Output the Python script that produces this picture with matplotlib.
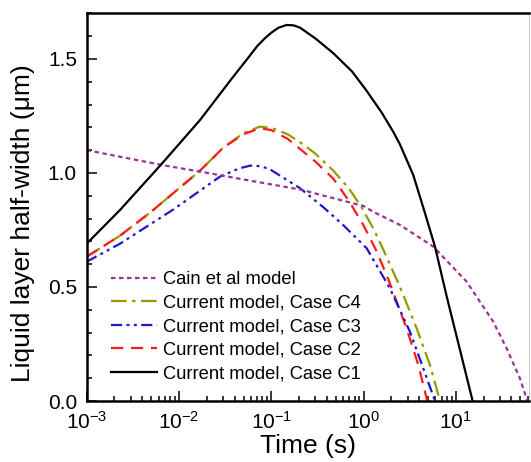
import matplotlib
matplotlib.use("Agg")
import matplotlib.pyplot as plt
from matplotlib.ticker import LogLocator, MultipleLocator, FormatStrFormatter, NullFormatter

plt.rcParams['font.family'] = ['Liberation Sans', 'DejaVu Sans']
plt.rcParams['mathtext.fontset'] = 'custom'
plt.rcParams['mathtext.rm'] = 'Liberation Sans'
plt.rcParams['mathtext.it'] = 'Liberation Sans:italic'
plt.rcParams['mathtext.default'] = 'regular'

# Cain et al model
t_cain = [0.001, 0.0065, 0.0169, 0.054, 0.22, 0.30, 1.0, 1.27, 2.48, 5.7, 13.1, 25.4, 35.5, 49.4, 58.5, 60.0]
w_cain = [1.10, 1.035, 1.006, 0.969, 0.925, 0.91, 0.855, 0.83, 0.772, 0.677, 0.523, 0.348, 0.231, 0.10, 0.01, 0.0]

# Current model, Case C4
t_c4 = [0.001, 0.0023, 0.005, 0.0169, 0.030, 0.05, 0.075, 0.10, 0.15, 0.205, 0.30, 0.47, 0.70, 0.95, 1.3, 1.63, 2.48, 3.76, 5.24, 6.73]
w_c4 = [0.633, 0.725, 0.83, 1.01, 1.11, 1.175, 1.203, 1.198, 1.17, 1.135, 1.085, 1.01, 0.93, 0.85, 0.75, 0.665, 0.50, 0.319, 0.158, 0.0]

# Current model, Case C3
t_c3 = [0.001, 0.0023, 0.0087, 0.0278, 0.045, 0.0589, 0.075, 0.095, 0.205, 0.366, 0.60, 1.08, 1.93, 3.18, 4.44, 5.94]
w_c3 = [0.611, 0.69, 0.84, 0.984, 1.02, 1.032, 1.03, 1.018, 0.933, 0.85, 0.772, 0.67, 0.494, 0.304, 0.143, 0.0]

# Current model, Case C2
t_c2 = [0.001, 0.0023, 0.005, 0.0169, 0.030, 0.05, 0.075, 0.10, 0.15, 0.205, 0.30, 0.47, 0.70, 1.0, 1.39, 1.85, 2.93, 3.92, 4.9]
w_c2 = [0.633, 0.725, 0.83, 1.01, 1.11, 1.17, 1.196, 1.188, 1.15, 1.105, 1.05, 0.975, 0.875, 0.77, 0.655, 0.535, 0.318, 0.158, 0.0]

# Current model, Case C1
t_c1 = [0.001, 0.0023, 0.0065, 0.0169, 0.0387, 0.055, 0.07, 0.085, 0.10, 0.12, 0.147, 0.175, 0.205, 0.30, 0.47, 0.75, 1.08, 1.57, 2.1, 2.48, 3.46, 4.5, 5.94, 7.94, 11.07, 15.2]
w_c1 = [0.69, 0.838, 1.04, 1.232, 1.422, 1.50, 1.555, 1.59, 1.615, 1.637, 1.649, 1.647, 1.637, 1.59, 1.525, 1.445, 1.36, 1.265, 1.18, 1.125, 0.99, 0.84, 0.677, 0.46, 0.225, 0.0]

labels = ["Cain et al model", "Current model, Case C4", "Current model, Case C3",
          "Current model, Case C2", "Current model, Case C1"]

fig = plt.figure(figsize=(5.31, 4.62), dpi=100)
ax = fig.add_axes([0.1633, 0.132, 0.9962 - 0.1633, 0.9712 - 0.132])

lw = 1.6
h4, = ax.plot(t_c4, w_c4, color='#999900', lw=lw, dashes=(7, 2.5, 1.5, 2.5), label=labels[1])
h2, = ax.plot(t_c2, w_c2, color='#ff1a1a', lw=lw, dashes=(5.5, 3.5), label=labels[3])
h3, = ax.plot(t_c3, w_c3, color='#1a1acc', lw=lw, dashes=(5, 2, 1.3, 2, 1.3, 2), label=labels[2])
hc, = ax.plot(t_cain, w_cain, color='#993399', lw=lw, dashes=(2, 1.6), label=labels[0])
h1, = ax.plot(t_c1, w_c1, color='black', lw=lw, label=labels[4])

ax.set_xscale('log')
ax.set_xlim(1e-3, 62)
ax.set_ylim(0, 1.7)

ax.xaxis.set_major_locator(LogLocator(base=10, numticks=10))
ax.xaxis.set_minor_locator(LogLocator(base=10, subs=range(2, 10), numticks=20))
ax.xaxis.set_minor_formatter(NullFormatter())
ax.yaxis.set_major_locator(MultipleLocator(0.5))
ax.yaxis.set_minor_locator(MultipleLocator(0.1))
ax.yaxis.set_major_formatter(FormatStrFormatter('%.1f'))

ax.tick_params(which='both', direction='in', top=False, right=False, width=1.1, labelsize=15)
ax.tick_params(which='major', length=7, pad=7)
ax.tick_params(which='minor', length=3.8)

for side in ['left', 'bottom', 'top']:
    ax.spines[side].set_linewidth(1.8)
ax.spines['right'].set_linewidth(0.8)
ax.spines['right'].set_color('#c8c8c8')

ax.set_xlabel('Time (s)', fontsize=19, labelpad=1)
ax.set_ylabel('Liquid layer half-width (\u03bcm)', fontsize=19, labelpad=6)
ax.yaxis.set_label_coords(-0.118, 0.46)

ax.legend(handles=[hc, h4, h3, h2, h1], loc='lower left',
          bbox_to_anchor=(0.054, 0.048), borderaxespad=0.0, borderpad=0.0,
          frameon=False, fontsize=13.2, handlelength=2.55, handletextpad=0.3,
          labelspacing=0.36)

fig.savefig('out.png', dpi=100)
